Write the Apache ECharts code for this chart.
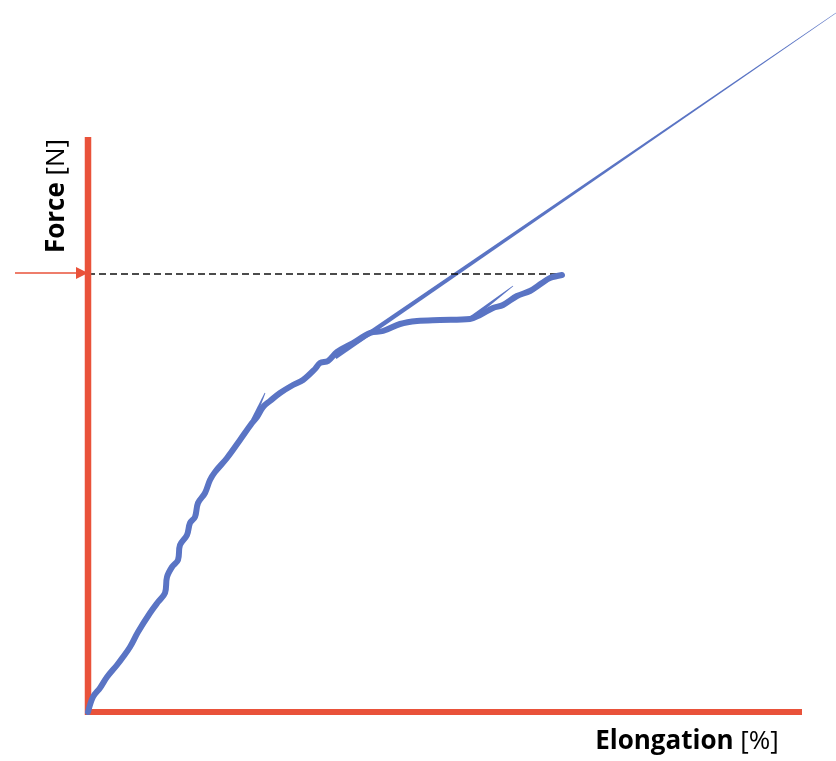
<!DOCTYPE html>
<html>
<head>
<meta charset="utf-8">
<script src="https://cdn.jsdelivr.net/npm/echarts@6/dist/echarts.min.js"></script>
<style>html,body{margin:0;padding:0;background:#fff}#c{width:836px;height:761px}</style>
</head>
<body>
<div id="c"></div>
<script>
// Stress–strain curve (arbitrary units: elongation, force)
const curve = [
  [0,0],[5,15],[12,24],[19,35],[29,47],[35,55],[42,65],[50,80],[62,99],[70,110],
  [77,119],[79,135],[84,145],[90,152],[92,167],[99,177],[102,189],[107,195],[110,209],
  [117,219],[122,232],[127,240],[139,254],[152,272],[164,289],[169,295],[175,305],
  [182,311],[192,319],[205,327],[215,332],[227,343],[232,349],[240,351],[249,360],
  [265,369],[282,379],[295,381],[312,388],[329,391],[352,392],[382,393],[392,397],
  [405,404],[415,407],[429,416],[442,421],[454,429],[462,434],[474,437]
];
// tapered strokes: [x1,y1,x2,y2]
const tangentLine = [247,355,748,699];
const spikes = [[165,292,177,319],[382,393,425,426]];
const forceLevel = 438;          // dashed horizontal level
const xAxisEnd = 714, yAxisEnd = 575;
const arrowFrom = [-73,439], arrowTo = [-6,439];

const chart = echarts.init(document.getElementById('c'));
const blue = '#5A74C4', red = '#E9523A';

function taper(params, api){
  const p1 = api.coord([api.value(0), api.value(1)]);
  const p2 = api.coord([api.value(2), api.value(3)]);
  const w1 = api.value(4), w2 = api.value(5);
  const dx = p2[0]-p1[0], dy = p2[1]-p1[1], L = Math.hypot(dx,dy);
  const nx = -dy/L, ny = dx/L;
  return {type:'polygon', shape:{points:[
    [p1[0]+nx*w1/2, p1[1]+ny*w1/2],[p2[0]+nx*w2/2, p2[1]+ny*w2/2],
    [p2[0]-nx*w2/2, p2[1]-ny*w2/2],[p1[0]-nx*w1/2, p1[1]-ny*w1/2]]},
    style:{fill: blue}};
}

chart.setOption({
  animation:false,
  grid:{left:0,right:0,top:0,bottom:0},
  xAxis:{type:'value',min:-88,max:748,show:false},
  yAxis:{type:'value',min:-49,max:712,show:false},
  series:[
    {type:'line',data:[[0,forceLevel],[474,forceLevel]],symbol:'none',
     lineStyle:{color:'#111',width:1.6,type:[7,4]}},
    {type:'line',data:[[0,0],[xAxisEnd,0]],symbol:'none',lineStyle:{color:red,width:6,cap:'butt'}},
    {type:'line',data:[[0,-3],[0,yAxisEnd]],symbol:'none',lineStyle:{color:red,width:6.5,cap:'butt'}},
    {type:'custom',renderItem:taper,data:[
      tangentLine.concat([5,0.6]),
      spikes[0].concat([4,0.8]),
      spikes[1].concat([4.5,0.8])
    ]},
    {type:'line',data:curve,symbol:'none',smooth:0.35,
     lineStyle:{color:blue,width:6,join:'round',cap:'round'}},
    {type:'lines',coordinateSystem:'cartesian2d',symbol:['none','triangle'],symbolSize:[0,12],
     lineStyle:{color:red,width:1.5,opacity:1},
     data:[{coords:[arrowFrom,arrowTo]}]}
  ],
  graphic:[
    {type:'text',x:57,y:196,rotation:Math.PI/2,
     style:{text:'{b|Force} [N]',font:'26px "Open Sans"',fill:'#000',align:'center',verticalAlign:'middle',
       rich:{b:{font:'bold 26px "Open Sans"',fill:'#000'}}}},
    {type:'text',x:687,y:742,
     style:{text:'{b|Elongation} [%]',font:'26px "Open Sans"',fill:'#000',align:'center',verticalAlign:'middle',
       rich:{b:{font:'bold 26px "Open Sans"',fill:'#000'}}}}
  ]
});
</script>
</body>
</html>
